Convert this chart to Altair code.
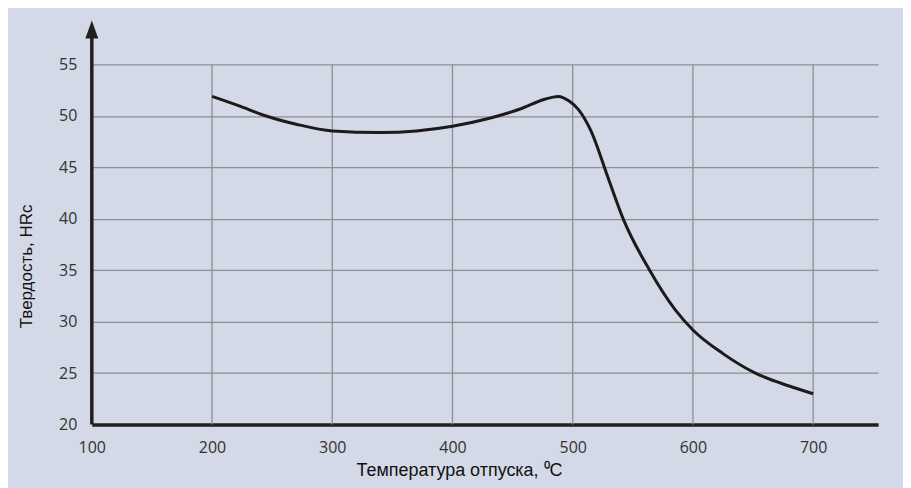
import altair as alt
import pandas as pd

# Curve data (temperature, hardness HRc)
temp = [200, 222, 245, 270, 300, 340, 370, 400, 430, 458, 476, 488, 497, 505, 515,
        530, 542, 564, 585, 600, 625, 652, 680, 700]
hrc = [51.9, 51.0, 50.0, 49.2, 48.55, 48.4, 48.55, 49.0, 49.75, 50.75, 51.6, 51.9, 51.45,
       50.6, 48.6, 43.8, 40.0, 35.0, 31.2, 29.2, 26.9, 25.0, 23.75, 23.0]

x_ticks = [100, 200, 300, 400, 500, 600, 700]
y_ticks = [20, 25, 30, 35, 40, 45, 50, 55]
x_grid = [200, 300, 400, 500, 600, 700]

X_DOM = [100, 754]
Y_DOM = [20, 59.28]

BG = "#d3d9e6"
AX = "#231f20"
GRID = "#8e8e92"

curve = pd.DataFrame({"t": temp, "h": hrc})
vgrid = pd.DataFrame({"t": x_grid, "lo": [20] * len(x_grid), "hi": [55] * len(x_grid)})
yaxis = pd.DataFrame({"t": [100], "lo": [20], "hi": [57.6]})
arrow = pd.DataFrame({"t": [100], "h": [58.41]})

xs = alt.Scale(domain=X_DOM, nice=False, zero=False)
ys = alt.Scale(domain=Y_DOM, nice=False, zero=False)

x_axis = alt.Axis(values=x_ticks, grid=False, ticks=False, domain=True,
                  domainColor=AX, domainWidth=3.5, labelFont="Open Sans",
                  labelFontSize=16, labelColor="#333333", labelPadding=15,
                  title="Температура отпуска, ⁰C", titleFont="Liberation Sans",
                  titleFontSize=18, titleFontWeight="normal", titleColor="#111111",
                  titleX=368, titleY=51, titleBaseline="alphabetic", labelFlush=False)
y_axis = alt.Axis(values=y_ticks, grid=True, gridColor=GRID, gridWidth=1.3,
                  ticks=False, domain=False, labelFont="Open Sans", labelFontSize=16,
                  labelColor="#333333", labelPadding=15,
                  title="Твердость, HRc", titleFont="Liberation Sans",
                  titleFontSize=17, titleFontWeight="normal", titleColor="#111111",
                  titleAngle=-90, titleX=-60, titleY=246, titleBaseline="alphabetic",
                  titleAlign="center")

base_grid = alt.Chart(vgrid).mark_rule(color=GRID, strokeWidth=1.3).encode(
    x=alt.X("t:Q", scale=xs, axis=x_axis),
    y=alt.Y("lo:Q", scale=ys, axis=y_axis),
    y2="hi:Q",
)

line = alt.Chart(curve).mark_line(color="#1c1a1b", strokeWidth=3,
                                  interpolate="monotone").encode(
    x=alt.X("t:Q", scale=xs),
    y=alt.Y("h:Q", scale=ys),
)

yline = alt.Chart(yaxis).mark_rule(color=AX, strokeWidth=3.5).encode(
    x=alt.X("t:Q", scale=xs),
    y=alt.Y("lo:Q", scale=ys),
    y2="hi:Q",
)

arr = alt.Chart(arrow).mark_point(
    shape="M0,-1L0.72,1L-0.72,1Z", filled=True, color=AX, size=324, opacity=1,
    strokeWidth=0,
).encode(
    x=alt.X("t:Q", scale=xs),
    y=alt.Y("h:Q", scale=ys),
)

chart = alt.layer(base_grid, line, yline, arr).properties(
    width=788, height=405,
    autosize=alt.AutoSizeParams(type="none"),
    padding={"left": 84, "top": 12, "right": 25, "bottom": 63},
    background=BG,
).configure_view(stroke=None, fill=BG)

chart.save("out.html", embed_options={"renderer": "svg", "actions": False})
